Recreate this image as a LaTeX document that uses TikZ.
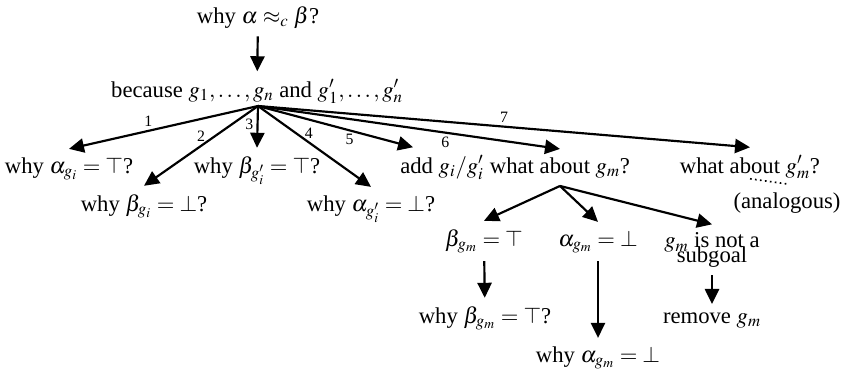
\documentclass[tikz,border=0pt]{standalone}
\usepackage{mathptmx}
\usepackage{fontspec}
\setmainfont{Liberation Serif}
\usetikzlibrary{arrows.meta, positioning}

\begin{document}
\begin{tikzpicture}[
  x = 0.6pt, y = -0.6pt,
  every node/.style = {font=\fontsize{13.6}{13.6}\selectfont,
                       inner sep=4pt, outer sep=1pt},
  goal/.style  = {anchor=base},
  num/.style   = {font=\fontsize{9.5}{9.5}\selectfont, inner sep=1.5pt},
  arrow/.style = {-{Triangle[length=9pt, width=8.5pt]}, line width=1.3pt}
]
\useasboundingbox (0,0) rectangle (857,381);

% --- question and answer ---
\node[goal] (why)     at (258,23) {why $\alpha \approx_c \beta$?};
\node[goal] (because) at (257,97) {because $g_1,\ldots,g_n$ and $g'_1,\ldots,g'_n$};
\coordinate (fan) at (258,106);

% --- seven follow-ups ---
\node[goal] (alphag)  at (69,173)  {why $\alpha_{g_i} = \top$?};
\node[goal] (betag)   at (144,211) {why $\beta_{g_i} = \bot$?};
\node[goal] (betagp)  at (257,173) {why $\beta_{g'_i} = \top$?};
\node[goal] (alphagp) at (371,211) {why $\alpha_{g'_i} = \bot$?};
\node[goal] (add)     at (442,173) {add $g_i/g'_i$};
\node[goal] (about)   at (560,173) {what about $g_m$?};
\node[goal] (aboutp)  at (750,173) {what about $g'_m$?};
\node[goal] (analog)  at (787,208) {(analogous)};

% --- cases for g_m ---
\node[goal] (betam)  at (484,246) {$\beta_{g_m} = \top$};
\node[goal] (alpham) at (598,246) {$\alpha_{g_m} = \bot$};
\node[goal, align=center] (nosub) at (712,262) {$g_m$ is not a\\[-5pt]subgoal};
\node[goal] (whybetam)  at (485,323) {why $\beta_{g_m} = \top$?};
\node[goal] (whyalpham) at (598,362) {why $\alpha_{g_m} = \bot$};
\node[goal] (remove)    at (712,323) {remove $g_m$};

% --- Arrows ---
\draw[arrow] (why) -- (because);

\draw[arrow] (fan) -- node[num, pos=0.58, above] {1} (alphag.north);
\draw[arrow] (fan) -- node[num, pos=0.5, above]  {2} (betag.north);
\draw[arrow] (fan) -- node[num, pos=0.45, left]  {3} (betagp.north);
\draw[arrow] (fan) -- node[num, pos=0.45, above] {4} (alphagp.north);
\draw[arrow] (fan) -- node[num, pos=0.59, below] {5} (add.145);
\draw[arrow] (fan) -- node[num, pos=0.62, below] {6} (about.north);
\draw[arrow] (fan) -- node[num, pos=0.5, above]  {7} (aboutp.north);

\draw[dotted, line width=1pt] ([yshift=5pt]aboutp.south) -- (analog.north);

% what about g_m -> three cases
\draw[arrow] (about.south) -- (betam.north);
\draw[arrow] (about.south) -- (alpham.north);
\draw[arrow] (about.south) -- (nosub.north);

\draw[arrow] (betam)  -- (whybetam);
\draw[arrow] (alpham) -- (whyalpham);
\draw[arrow] (nosub)  -- (remove);

\end{tikzpicture}
\end{document}
